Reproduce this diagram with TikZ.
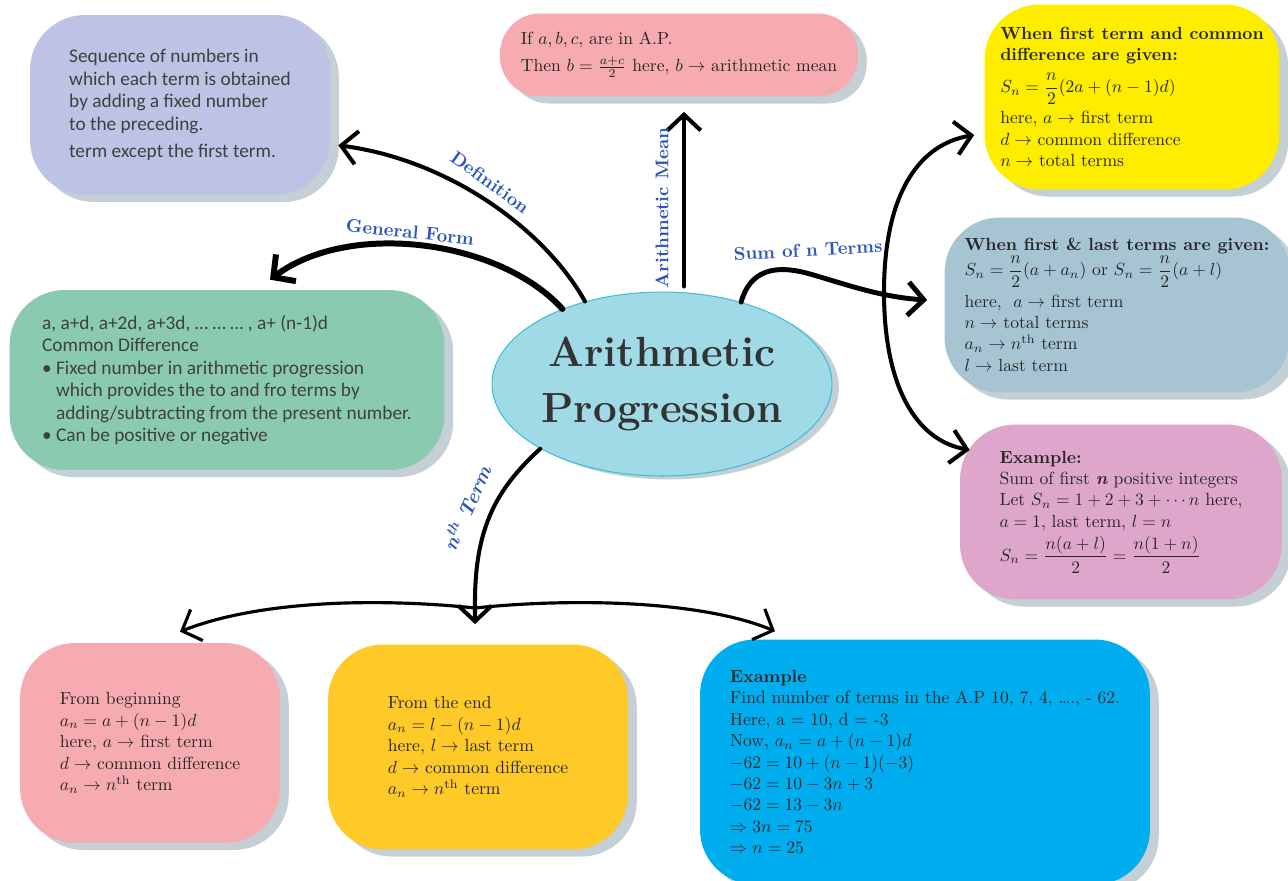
\documentclass[tikz,border=0pt]{standalone}
\usepackage{amsmath}
\usepackage{fontspec}
\usepackage{xcolor}
\usepackage{tikz}
\usetikzlibrary{shapes.geometric, arrows.meta, positioning, calc, shadows}
\newfontfamily\calibfont{Carlito}
\definecolor{lavender}{RGB}{189,195,228}
\definecolor{meanpink}{RGB}{246,171,176}
\definecolor{sunyellow}{RGB}{255,237,0}
\definecolor{steelblue}{RGB}{167,196,211}
\definecolor{orchid}{RGB}{223,166,204}
\definecolor{mintgreen}{RGB}{137,202,176}
\definecolor{skyfill}{RGB}{160,218,230}
\definecolor{skyline}{RGB}{60,190,215}
\definecolor{amber}{RGB}{255,202,40}
\definecolor{cyanblue}{RGB}{0,174,239}
\definecolor{shadowgray}{RGB}{196,207,214}
\definecolor{labelblue}{RGB}{45,85,190}
\definecolor{textgray}{RGB}{64,64,64}

\tikzset{
  blob/.style={rectangle, rounded corners=1.1cm, align=left, text=black!85,
    font=\fontsize{10}{12.2}\selectfont,
    general shadow={fill=shadowgray, shadow xshift=5pt, shadow yshift=-4pt}},
  sansblob/.style={blob, text=textgray, font=\calibfont\fontsize{11}{12.8}\selectfont},
  topic/.style={ellipse, fill=skyfill, draw=skyline, line width=0.6pt, align=center,
    inner xsep=-3pt, text=black!80, font=\bfseries\fontsize{24}{32}\selectfont,
    general shadow={fill=shadowgray, shadow xshift=4pt, shadow yshift=-2pt}},
  arr/.style={line width=2.3pt, line cap=round, -{Straight Barb[length=9pt,width=19pt]}},
  tag/.style={text=labelblue, font=\bfseries\fontsize{10.5}{12}\selectfont, inner sep=1pt}
}

\begin{document}
\begin{tikzpicture}[x=0.02cm, y=-0.02cm]
    \useasboundingbox (0,0) rectangle (1288,880);

    % Centre topic
    \node[topic, minimum width=6.8cm, minimum height=3.68cm] (ap) at (662,384) {Arithmetic\\Progression};

    % Boxes round it
    \node[sansblob, fill=lavender, minimum width=6cm, minimum height=3.6cm] (defbox) at (180,105)
        {Sequence of numbers in\\which each term is obtained\\by adding a fixed number\\to the preceding.\\[3pt]term except the first term.};
    \node[blob, fill=meanpink, rounded corners=0.8cm, minimum width=7.16cm, minimum height=1.66cm] (meanbox) at (679,55)
        {If $a, b, c,$ are in A.P.\\[3pt]Then $b=\frac{a+c}{2}$ here, $b\to$ arithmetic mean};
    \node[blob, fill=sunyellow, minimum width=5.9cm, minimum height=3.7cm] (yellowbox) at (1132,97)
        {\textbf{When first term and common}\\\textbf{difference are given:}\\[4pt]
         $S_n=\dfrac{n}{2}(2a+(n-1)d)$\\[3pt]here, $a\to$ first term\\$d\to$ common difference\\$n\to$ total terms};
    \node[blob, fill=steelblue, minimum width=6.9cm, minimum height=3.5cm] (steelbox) at (1117,305)
        {\textbf{When first \& last terms are given:}\\
         $S_n=\dfrac{n}{2}(a+a_n)$ or $S_n=\dfrac{n}{2}(a+l)$\\[3pt]here,\ \ $a\to$ first term\\
         $n\to$ total terms\\$a_n\to n^{\mathrm{th}}$ term\\$l\to$ last term};
    \node[blob, fill=orchid, minimum width=6.44cm, minimum height=3.5cm] (sumex) at (1121,512)
        {\textbf{Example:}\\Sum of first \textbf{\textit{n}} positive integers\\
         Let $S_n=1+2+3+\cdots n$ here,\\$a=1$, last term, $l=n$\\[2pt]
         $S_n=\dfrac{n(a+l)}{2}=\dfrac{n(1+n)}{2}$};
    \node[sansblob, fill=mintgreen, minimum width=8.7cm, minimum height=3.6cm] (genbox) at (227,380)
        {a, a+d, a+2d, a+3d, \ldots\ \ldots\ \ldots\ , a+ (n-1)d\\Common Difference\\
         \textbullet\ Fixed number in arithmetic progression\\
         \hphantom{\textbullet\ }which provides the to and fro terms by\\
         \hphantom{\textbullet\ }adding/subtracting from the present number.\\
         \textbullet\ Can be positive or negative};
    \node[blob, fill=meanpink, minimum width=5.2cm, minimum height=4cm] (begbox) at (150,743)
        {From beginning\\$a_n=a+(n-1)d$\\here, $a\to$ first term\\$d\to$ common difference\\$a_n\to n^{\mathrm{th}}$ term};
    \node[blob, fill=amber, minimum width=6cm, minimum height=4.1cm] (endbox) at (478,747)
        {From the end\\$a_n=l-(n-1)d$\\here, $l\to$ last term\\$d\to$ common difference\\$a_n\to n^{\mathrm{th}}$ term};
    \node[blob, fill=cyanblue, minimum width=9cm, minimum height=4.9cm] (exbox) at (925,762)
        {\textbf{Example}\\Find number of terms in the A.P 10, 7, 4, \ldots., - 62.\\Here, a = 10, d = -3\\
         Now, $a_n=a+(n-1)d$\\$-62=10+(n-1)(-3)$\\$-62=10-3n+3$\\$-62=13-3n$\\
         $\Rightarrow 3n=75$\\$\Rightarrow n=25$};

    % Definition and general form
    \draw[arr] (ap.133) .. controls (545,230) and (450,160) .. ($(defbox.-15)+(8,0)$);
    \draw[arr, line width=3.4pt] (ap.143) .. controls (500,240) and (350,220) .. ($(genbox.north)+(43,-10)$);

    % Arithmetic mean
    \draw[arr] ($(ap.north)+(22,-5)$) -- ($(meanbox.south)+(5,15)$);

    % Sum of n terms
    \draw[arr, line width=2.8pt] (ap.46) .. controls (750,270) and (775,264) .. (810,274)
        .. controls (845,284) and (880,297) .. ($(steelbox.west)+(-17,-5)$);
    \coordinate (sumjoin) at (884,292);
    \draw[arr] (sumjoin) .. controls (884,200) and (915,145) .. ($(yellowbox.west)+(-10,38)$);
    \draw[arr] (sumjoin) .. controls (884,385) and (915,440) .. ($(sumex.west)+(10,-62)$);

    % nth term
    \coordinate (nthjoin) at (475,608);
    \draw[arr] (ap.208) .. controls (495,490) and (474,530) .. (nthjoin) -- ($(endbox.north)+(-3,-20)$);
    \draw[arr, line width=1.8pt] (nthjoin) .. controls (380,598) and (260,600) .. ($(begbox.north)+(30,-11)$);
    \draw[arr, line width=1.8pt] (nthjoin) .. controls (570,598) and (700,600) .. ($(exbox.north)+(-150,-8)$);

    % Labels
    \node[tag, rotate=-36] (deflabel) at (490,182) {Definition};
    \node[tag, rotate=-6] (genlabel) at (410,232) {General Form};
    \node[tag, rotate=90] (meanlabel) at (662,208) {Arithmetic Mean};
    \node[tag, rotate=3] (sumlabel) at (808,250) {Sum of n Terms};
    \node[tag, rotate=66, font=\bfseries\fontsize{11.5}{12}\selectfont] (nthlabel) at (466,508) {\itshape n\textsuperscript{th} Term};
\end{tikzpicture}
\end{document}
